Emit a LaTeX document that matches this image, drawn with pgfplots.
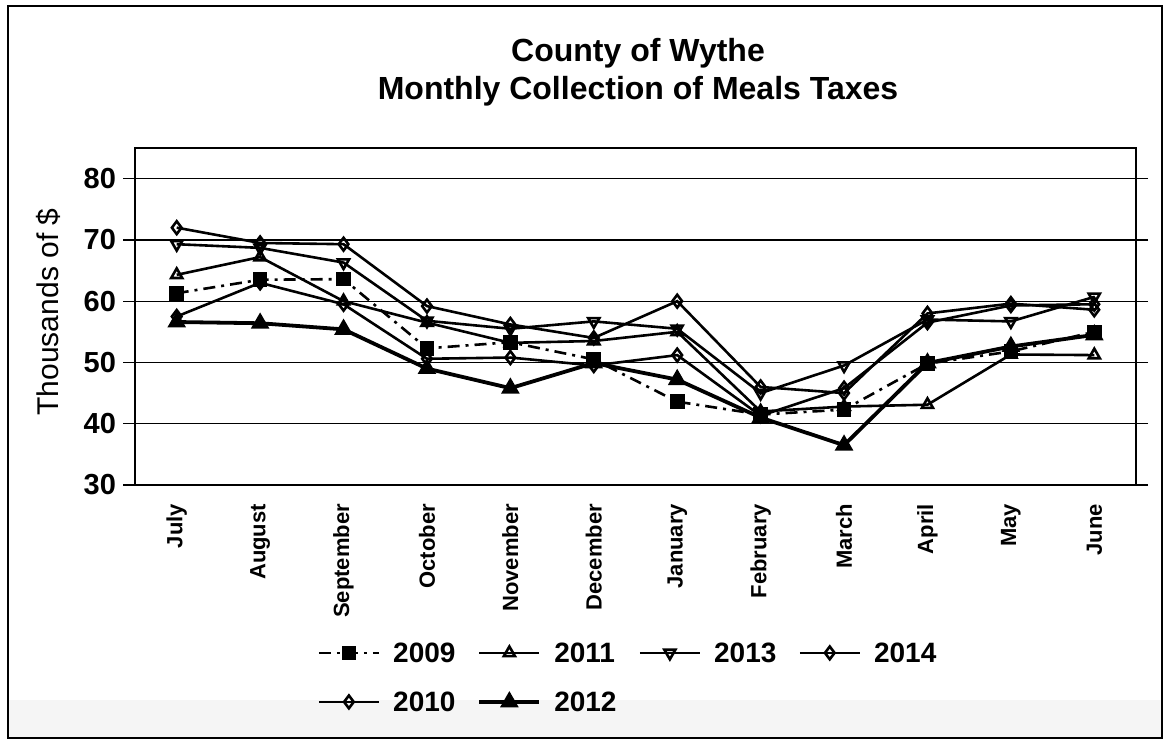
\documentclass[border=0pt]{standalone}
\usepackage{fontspec}
\setmainfont{Liberation Sans}
\usepackage{pgfplots}
\pgfplotsset{compat=1.18}
\begin{document}
\begin{tikzpicture}[x=1pt,y=1pt]
\path[use as bounding box] (0,0) rectangle (583.5,371);
\fill[gray!8] (4,2) rectangle (581,21);
\draw[line width=0.6pt] (4,2) rectangle (581,368);
\node[font=\bfseries\fontsize{16}{19}\selectfont, align=center] at (319,335) {County of Wythe\\Monthly Collection of Meals Taxes};
\node[font=\fontsize{15}{18}\selectfont, rotate=90] at (24,215) {Thousands of \$};
\begin{axis}[
  at={(67.5pt,128.5pt)}, anchor=south west,
  scale only axis, width=500.5pt, height=168.5pt,
  xmin=-0.5, xmax=11.5, ymin=30, ymax=85,
  xtick={0,...,11},
  xticklabels={July,August,September,October,November,December,January,February,March,April,May,June},
  xticklabel style={rotate=90, anchor=east, font=\bfseries\fontsize{11}{13}\selectfont},
  ytick={30,40,...,80},
  yticklabel style={font=\bfseries\fontsize{14.5}{17}\selectfont},
  /pgf/number format/assume math mode=true,
  tick align=outside,
  x tick style={draw=none},
  y tick style={black, line width=0.6pt},
  major tick length=6pt,
  ymajorgrids,
  grid style={black, line width=0.6pt},
  axis line style={black, line width=0.9pt},
  legend columns=4,
  legend cell align=left,
  legend style={at={(axis description cs:0.182,-0.571)}, anchor=west, draw=none, fill=none,
    inner sep=0pt,
    font=\bfseries\fontsize{14}{17}\selectfont, row sep=14.5pt,
    nodes={inner sep=0pt, text height=10pt, text depth=0pt},
    /tikz/every odd column/.append style={column sep=6.5pt},
    /tikz/every even column/.append style={column sep=11pt}},
  legend image code/.code={\draw[mark repeat=2,mark phase=2,#1] plot coordinates {(0pt,0pt) (15pt,0pt) (30pt,0pt)};},
]
% 2009
\addplot[black, line width=1.3pt, dash pattern=on 6pt off 3pt on 1.5pt off 3pt, mark=square*, mark size=3pt, mark options={solid}]
 coordinates {(0,61.3) (1,63.5) (2,63.6) (3,52.3) (4,53.3) (5,50.5) (6,43.6) (7,41.5) (8,42.3) (9,49.8) (10,51.8) (11,55.0)};
\addlegendentry{2009}
% 2011
\addplot[black, line width=1.3pt, mark=triangle, mark size=3.2pt, mark options={solid}]
 coordinates {(0,64.3) (1,67.2) (2,60.0) (3,56.5) (4,53.2) (5,53.5) (6,55.0) (7,42.0) (8,42.8) (9,43.1) (10,51.3) (11,51.2)};
\addlegendentry{2011}
% 2013
\addplot[black, line width=1.3pt, mark=triangle, mark size=3.2pt, mark options={solid, rotate=180}]
 coordinates {(0,69.3) (1,68.7) (2,66.3) (3,56.8) (4,55.5) (5,56.7) (6,55.5) (7,45.0) (8,49.5) (9,57.0) (10,56.7) (11,60.7)};
\addlegendentry{2013}
% 2014
\addplot[black, line width=1.3pt, mark=diamond, mark size=3.2pt, mark options={solid}]
 coordinates {(0,72.0) (1,69.5) (2,69.3) (3,59.2) (4,56.2) (5,54.0) (6,60.0) (7,46.0) (8,45.0) (9,58.0) (10,59.6) (11,58.6)};
\addlegendentry{2014}
% 2010
\addplot[black, line width=1.3pt, mark=diamond, mark size=3.2pt, mark options={solid}]
 coordinates {(0,57.5) (1,63.0) (2,59.5) (3,50.6) (4,50.8) (5,49.5) (6,51.2) (7,41.3) (8,45.8) (9,56.5) (10,59.3) (11,59.5)};
\addlegendentry{2010}
% 2012
\addplot[black, line width=1.9pt, mark=triangle*, mark size=3.5pt, mark options={solid}]
 coordinates {(0,56.6) (1,56.4) (2,55.4) (3,49.0) (4,45.8) (5,49.9) (6,47.2) (7,41.0) (8,36.5) (9,49.9) (10,52.6) (11,54.5)};
\addlegendentry{2012}
\end{axis}
\end{tikzpicture}
\end{document}
